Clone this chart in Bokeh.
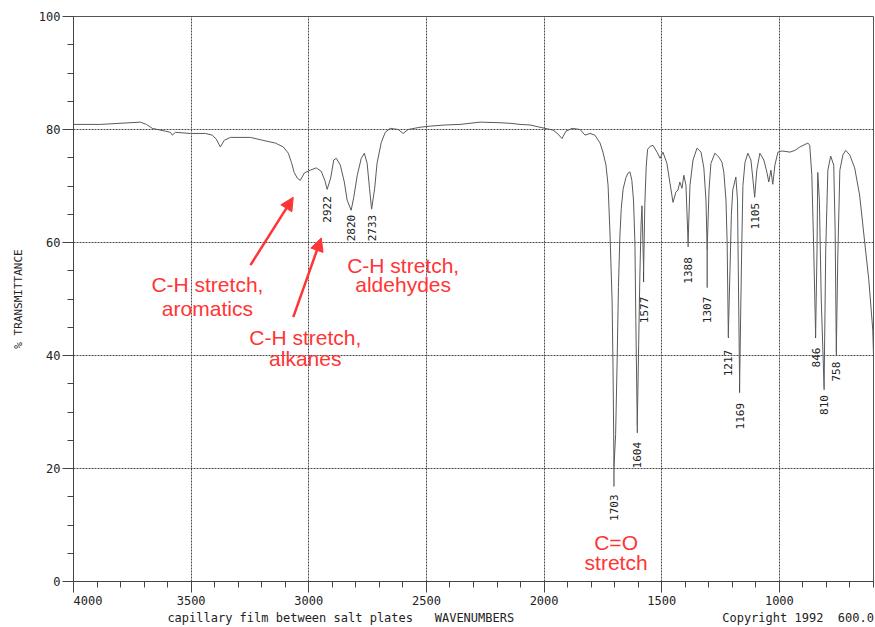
import numpy as np
from bokeh.plotting import figure
from bokeh.models import Range1d, FixedTicker, LinearAxis, Arrow, NormalHead
from bokeh.core.properties import value
from bokeh.embed import file_html
from bokeh.resources import INLINE

# ---- spectrum (wavenumber cm-1, % transmittance) ----
wavenumber = [4000, 3885, 3716, 3690, 3665, 3609, 3588, 3580, 3567, 3503, 3440, 3410, 3393, 3376,
              3359, 3333, 3248, 3197, 3142, 3108, 3087, 3074, 3062, 3049, 3036, 3019, 2994, 2968,
              2947, 2932, 2922, 2907, 2894, 2883, 2866, 2849, 2837, 2820, 2809, 2794, 2777, 2764,
              2752, 2742, 2733, 2720, 2710, 2692, 2675, 2654, 2620, 2599, 2578, 2527, 2484, 2420,
              2357, 2272, 2187, 2145, 2102, 2060, 1996, 1962, 1941, 1924, 1907, 1881, 1847, 1826,
              1805, 1784, 1762, 1750, 1737, 1728, 1720, 1711, 1707, 1703, 1696, 1690, 1684, 1678,
              1672, 1664, 1652, 1643, 1635, 1627, 1620, 1614, 1610, 1604, 1598, 1593, 1588, 1584,
              1577, 1572, 1566, 1560, 1550, 1537, 1520, 1507, 1495, 1478, 1465, 1452, 1440, 1431,
              1423, 1414, 1406, 1397, 1388, 1380, 1367, 1350, 1333, 1321, 1312, 1307, 1299, 1291,
              1274, 1257, 1244, 1236, 1227, 1222, 1217, 1210, 1204, 1198, 1185, 1178, 1169, 1161,
              1155, 1146, 1134, 1121, 1112, 1105, 1096, 1083, 1066, 1053, 1045, 1036, 1028, 1019,
              1006, 989, 955, 934, 913, 879, 871, 862, 854, 846, 840, 837, 830, 822, 810, 803, 794,
              782, 769, 763, 758, 752, 743, 730, 718, 701, 680, 659, 637, 620, 603, 600]
transmittance = [80.9, 80.9, 81.3, 80.9, 80.2, 79.7, 79.5, 79.0, 79.5, 79.3, 79.3, 79.0, 78.3, 76.9,
                 78.1, 78.6, 78.6, 78.1, 77.6, 76.9, 75.8, 74.2, 72.4, 71.4, 71.0, 72.3, 72.8, 73.2,
                 72.6, 71.0, 69.4, 71.4, 74.6, 74.9, 73.7, 70.7, 67.5, 65.7, 68.0, 71.9, 74.9, 75.8,
                 74.0, 69.6, 65.9, 69.6, 74.0, 77.7, 79.5, 80.2, 80.0, 79.3, 80.0, 80.4, 80.6, 80.8,
                 80.9, 81.3, 81.2, 81.1, 80.9, 80.8, 80.2, 79.9, 79.2, 78.4, 79.7, 80.2, 80.0, 79.0,
                 79.3, 79.0, 77.6, 76.0, 73.7, 70.1, 61.7, 49.8, 38.0, 20.3, 26.0, 38.0, 52.0, 61.0,
                 66.0, 69.5, 71.5, 72.3, 72.5, 71.0, 67.5, 60.0, 46.0, 27.5, 42.0, 54.0, 63.0, 66.5,
                 55.0, 66.5, 73.5, 76.5, 77.0, 77.2, 76.0, 74.9, 76.0, 74.0, 70.5, 67.1, 68.9, 69.3,
                 70.7, 69.6, 71.9, 70.1, 60.0, 70.1, 74.6, 76.7, 76.0, 73.2, 67.5, 58.7, 69.3, 74.0,
                 75.8, 75.1, 74.2, 72.4, 67.5, 60.0, 43.6, 55.0, 65.0, 69.3, 71.6, 67.5, 34.8, 56.9,
                 70.1, 74.2, 75.8, 74.6, 71.0, 68.0, 72.8, 75.8, 74.6, 72.4, 70.7, 72.8, 70.3, 73.7,
                 76.0, 76.2, 76.0, 76.3, 76.9, 77.6, 77.2, 71.9, 58.7, 43.6, 58.7, 72.4, 67.5, 49.8, 34.3, 58.7, 72.8,
                 75.3, 73.7, 62.2, 40.6, 56.9, 72.8, 75.5, 76.3, 75.5, 73.2, 68.4, 59.9, 53.4, 44.5, 40.0]

# ---- labelled peaks ----
peak_labels = ["2922", "2820", "2733", "1703", "1604", "1577", "1388", "1307", "1217", "1169",
               "1105", "846", "810", "758"]
peak_wn = [2922, 2820, 2733, 1703, 1604, 1577, 1388, 1307, 1217, 1169, 1105, 846, 810, 758]
peak_T = [69.4, 65.7, 65.9, 20.3, 27.5, 55.0, 60.0, 58.7, 43.6, 34.8, 68.0, 43.6, 34.3, 40.6]
marker_end_T = [69.4, 65.7, 65.9, 16.8, 26.3, 53.0, 59.2, 52.0, 43.1, 33.4, 68.0, 43.1, 33.9, 40.1]
label_top_T = [68.2, 64.9, 64.9, 15.4, 24.7, 50.4, 57.4, 50.4, 41.0, 31.6, 67.0, 41.4, 33.0, 38.9]

# ---- annotations ----
note_lines = ["C-H stretch,", "aromatics", "C-H stretch,", "alkanes",
              "C-H stretch,", "aldehydes", "C=O", "stretch"]
note_wn = [3431, 3431, 3015, 3015, 2599, 2599, 1694, 1694]
note_T = [52.5, 48.4, 43.1, 39.4, 56.0, 52.5, 6.9, 3.4]
arrow_start_wn = [3248, 3066]
arrow_start_T = [56.0, 46.8]
arrow_end_wn = [3066, 2947]
arrow_end_T = [68.0, 60.8]

# ---- ticks ----
x_major_ticks = [4000, 3500, 3000, 2500, 2000, 1500, 1000]
x_minor_ticks = list(range(600, 4001, 100))
y_major_ticks = [0, 20, 40, 60, 80, 100]
y_minor_ticks = list(range(0, 101, 5))

# ---- footer row (centre wavenumber of each text) ----
footer_texts = ["capillary film between salt plates", "WAVENUMBERS", "Copyright 1992", "600.0"]
footer_wn = [3079, 2296, 1028, 675]

RED = "#ff3535"
GRAY = "#5a5a5a"
MONO = "DejaVu Sans Mono"

p = figure(width=875, height=627, title=None,
           x_range=Range1d(4000, 600), y_range=Range1d(0, 100),
           output_backend="svg", toolbar_location=None,
           min_border_left=73, min_border_right=2, min_border_top=16, min_border_bottom=45)
p.background_fill_color = "white"
p.border_fill_color = "white"
p.outline_line_color = "#555555"

for ax, maj, mnr in ((p.xaxis, x_major_ticks, x_minor_ticks), (p.yaxis, y_major_ticks, y_minor_ticks)):
    ax.ticker = FixedTicker(ticks=maj, minor_ticks=mnr)
    ax.axis_line_color = "#444444"
    ax.major_tick_line_color = "#444444"
    ax.minor_tick_line_color = "#444444"
    ax.major_tick_in = 0
    ax.major_tick_out = 11
    ax.minor_tick_in = 0
    ax.minor_tick_out = 6
    ax.major_label_text_font = MONO
    ax.major_label_text_font_size = "12px"
    ax.major_label_text_color = "#222222"
    ax.axis_label_text_font = MONO
    ax.axis_label_text_font_style = "normal"
    ax.axis_label_text_color = "#222222"

p.xaxis.major_label_standoff = 1
p.xaxis.major_label_overrides = {4000: "\u00a0\u00a0\u00a0\u00a04000"}
p.yaxis.major_label_standoff = 2
p.yaxis.axis_label = "% TRANSMITTANCE"
p.yaxis.axis_label_text_font_size = "11px"
p.yaxis.axis_label_standoff = 11

# footer row drawn as a second, line-less axis below the first
footer_axis = LinearAxis(ticker=FixedTicker(ticks=footer_wn, minor_ticks=[]),
                         major_label_overrides=dict(zip(footer_wn, footer_texts)),
                         axis_line_color=None, major_tick_line_color=None, minor_tick_line_color=None,
                         major_tick_in=0, major_tick_out=0, major_label_standoff=0,
                         major_label_text_font=MONO, major_label_text_font_size="12px",
                         major_label_text_color="#222222")
p.add_layout(footer_axis, "below")

p.xgrid.ticker = FixedTicker(ticks=x_major_ticks)
p.ygrid.ticker = FixedTicker(ticks=y_major_ticks)
for g in (p.xgrid, p.ygrid):
    g.grid_line_color = "#4a4a4a"
    g.grid_line_width = 1
    g.grid_line_dash = "2 1"

# spectrum
p.line(wavenumber, transmittance, line_color=GRAY, line_width=1)

# peak markers & labels
p.segment(x0=peak_wn, y0=peak_T, x1=peak_wn, y1=marker_end_T, line_color="#333333", line_width=1)
p.text(x=peak_wn, y=label_top_T, text=peak_labels, angle=np.pi / 2,
       text_align="right", text_baseline="middle",
       text_font=value(MONO), text_font_size="11px", text_color="#222222")

# red annotations
p.text(x=note_wn, y=note_T, text=note_lines, text_align="center", text_baseline="middle",
       text_font=value("Liberation Sans"), text_font_size="21px", text_color=RED)
for xs, ys, xe, ye in zip(arrow_start_wn, arrow_start_T, arrow_end_wn, arrow_end_T):
    p.add_layout(Arrow(end=NormalHead(size=13, fill_color=RED, line_color=RED, line_width=1),
                       x_start=xs, y_start=ys, x_end=xe, y_end=ye,
                       line_color=RED, line_width=2.5))

open("out.html", "w").write(file_html(p, INLINE))
